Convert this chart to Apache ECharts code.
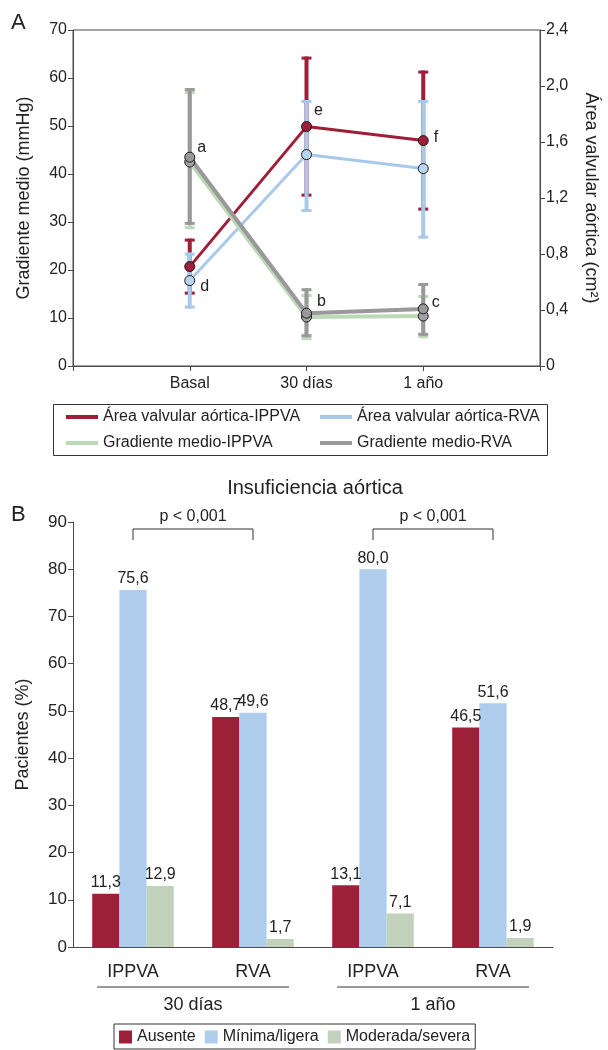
<!DOCTYPE html>
<html><head><meta charset="utf-8">
<script src="https://cdn.jsdelivr.net/npm/echarts@6/dist/echarts.min.js"></script>
<style>html,body{margin:0;padding:0;background:#fff}#c{width:608px;height:1050px}</style>
</head><body><div id="c"></div>
<script>
// ---------- Panel A data ----------
const timepoints = ['Basal', '30 días', '1 año'];
// Gradiente medio (mmHg)
const gradIPPVA     = [42.5, 10.2, 10.4];
const gradIPPVALow  = [28.5, 5.4, 5.8];
const gradIPPVAHigh = [57.3, 15.0, 14.8];
const gradRVA       = [43.5, 11.0, 11.9];
const gradRVALow    = [29.4, 6.0, 6.3];
const gradRVAHigh   = [57.9, 16.2, 17.3];
// Área valvular aórtica (cm2)
const areaIPPVA     = [0.71, 1.71, 1.61];
const areaIPPVALow  = [0.51, 1.21, 1.11];
const areaIPPVAHigh = [0.91, 2.21, 2.11];
const areaRVA       = [0.61, 1.51, 1.41];
const areaRVALow    = [0.41, 1.10, 0.91];
const areaRVAHigh   = [0.81, 1.90, 1.90];
// significance letters
const lettersGradRVA  = ['a', 'b', 'c'];
const lettersAreaRVA  = ['d', '', ''];
const lettersAreaIPPVA = ['', 'e', 'f'];

// ---------- Panel B data ----------
const barCategories = ['IPPVA', 'RVA', 'IPPVA', 'RVA'];
const periods = ['30 días', '1 año'];
const ausente  = [11.3, 48.7, 13.1, 46.5];
const minima   = [75.6, 49.6, 80.0, 51.6];
const moderada = [12.9, 1.7, 7.1, 1.9];
const pFrom = [0, 2];
const pTo   = [1, 3];
const pText = ['p < 0,001', 'p < 0,001'];

// ---------- styling ----------
const FONT = '"Liberation Sans", Arial, Helvetica, sans-serif';
const TXT = '#222';
const AX = '#4a4a4a';
const RED = '#9e1f37', BLUE = '#a9c9ea', GREEN = '#bcd9b6', GRAY = '#999999';
const BAR_RED = '#9c2138', BAR_BLUE = '#aecdec', BAR_GREEN = '#c2d1bb';

const topCats = [''].concat(timepoints, ['']);
const fmtComma = v => v.toFixed(1).replace('.', ',');

function errRender(color, lw, capW, capLw) {
  return function (params, api) {
    const x = api.value(0), lo = api.value(1), hi = api.value(2);
    const pLo = api.coord([x, lo]), pHi = api.coord([x, hi]);
    return { type: 'group', children: [
      { type: 'line', shape: { x1: pLo[0], y1: pLo[1], x2: pHi[0], y2: pHi[1] }, style: { stroke: color, lineWidth: lw } },
      { type: 'line', shape: { x1: pHi[0] - capW / 2, y1: pHi[1] + capLw / 2, x2: pHi[0] + capW / 2, y2: pHi[1] + capLw / 2 }, style: { stroke: color, lineWidth: capLw } },
      { type: 'line', shape: { x1: pLo[0] - capW / 2, y1: pLo[1] - capLw / 2, x2: pLo[0] + capW / 2, y2: pLo[1] - capLw / 2 }, style: { stroke: color, lineWidth: capLw } }
    ]};
  };
}
function errData(lo, hi) { return timepoints.map((t, i) => [i + 1, lo[i], hi[i]]); }
function errSeries(name, color, lo, hi, yIdx, lw) {
  return { type: 'custom', name: name + '-err', xAxisIndex: 0, yAxisIndex: yIdx, z: 2, clip: false,
    renderItem: errRender(color, lw, 10, 3), data: errData(lo, hi), encode: { x: 0, y: [1, 2] },
    silent: true, legendHoverLink: false };
}
const letterOffsets = { a: [-3, -10], b: [0, -12], c: [-2, -6], d: [0, 6], e: [-3, -16], f: [0, -3] };
function lineData(vals, letters) {
  return timepoints.map((t, i) => {
    const d = { value: [i + 1, vals[i]] };
    if (letters && letters[i]) {
      d.label = { show: true, formatter: letters[i], position: 'right', offset: letterOffsets[letters[i]],
        fontSize: 16, fontFamily: FONT, color: TXT };
    }
    return d;
  });
}
function lineSeries(name, color, fill, vals, yIdx, lw, letters) {
  return { type: 'line', name: name, xAxisIndex: 0, yAxisIndex: yIdx, z: 3,
    data: lineData(vals, letters), symbol: 'circle', symbolSize: 10,
    lineStyle: { color: color, width: lw }, itemStyle: { color: fill, borderColor: '#1a1a1a', borderWidth: 1 },
    emphasis: { disabled: true }, animation: false };
}

const chart = echarts.init(document.getElementById('c'), null, { renderer: 'canvas' });
const axisText = { color: TXT, fontSize: 16, fontFamily: FONT };
const nameText = { color: TXT, fontSize: 18, fontFamily: FONT };

const option = {
  animation: false,
  textStyle: { fontFamily: FONT },
  grid: [
    { left: 73, top: 30, width: 467, height: 336, show: true, borderColor: AX, borderWidth: 1, backgroundColor: 'transparent' },
    { left: 73, top: 522, width: 480, height: 425 }
  ],
  xAxis: [
    { gridIndex: 0, type: 'category', data: topCats, boundaryGap: false,
      axisLine: { lineStyle: { color: AX } }, axisTick: { lineStyle: { color: AX }, length: 5 },
      axisLabel: Object.assign({ margin: 10, interval: 0 }, axisText), splitLine: { show: false } },
    { gridIndex: 1, type: 'category', data: barCategories,
      axisLine: { lineStyle: { color: AX } }, axisTick: { lineStyle: { color: AX }, length: 5 },
      axisLabel: Object.assign({ margin: 16, interval: 0 }, axisText, { fontSize: 18 }) },
    { gridIndex: 1, type: 'category', data: periods, position: 'bottom', offset: 41,
      axisLine: { show: false }, axisTick: { show: false },
      axisLabel: Object.assign({ margin: 8, interval: 0 }, axisText, { fontSize: 18 }) }
  ],
  yAxis: [
    { gridIndex: 0, type: 'value', min: 0, max: 70, interval: 10,
      name: 'Gradiente medio (mmHg)', nameLocation: 'middle', nameGap: 40, nameTextStyle: nameText,
      axisLine: { show: true, lineStyle: { color: AX } }, axisTick: { show: true, lineStyle: { color: AX }, length: 5 },
      axisLabel: Object.assign({ margin: 6 }, axisText), splitLine: { show: false } },
    { gridIndex: 0, type: 'value', min: 0, max: 2.4, interval: 0.4, position: 'right',
      name: 'Área valvular aórtica (cm²)', nameLocation: 'middle', nameGap: 42, nameRotate: -90, nameTextStyle: nameText,
      axisLine: { show: true, lineStyle: { color: AX } }, axisTick: { show: true, lineStyle: { color: AX }, length: 5 },
      axisLabel: Object.assign({ margin: 6, formatter: v => v === 0 ? '0' : fmtComma(v) }, axisText),
      splitLine: { show: false } },
    { gridIndex: 1, type: 'value', min: 0, max: 90, interval: 10,
      name: 'Pacientes (%)', nameLocation: 'middle', nameGap: 41, nameTextStyle: nameText,
      axisLine: { show: true, lineStyle: { color: AX } }, axisTick: { show: true, lineStyle: { color: AX }, length: 5 },
      axisLabel: Object.assign({ margin: 6 }, axisText, { fontSize: 17 }), splitLine: { show: false } }
  ],
  legend: [
    { orient: 'vertical', left: 66, top: 408, padding: 0, itemGap: 8, itemWidth: 32, itemHeight: 4, icon: 'rect',
      textStyle: { color: TXT, fontSize: 16, fontFamily: FONT, lineHeight: 18 },
      itemStyle: { borderWidth: 0 }, selectedMode: false,
      data: [{ name: 'Área valvular aórtica-IPPVA', itemStyle: { color: RED } },
             { name: 'Gradiente medio-IPPVA', itemStyle: { color: GREEN } }] },
    { orient: 'vertical', left: 320, top: 408, padding: 0, itemGap: 8, itemWidth: 32, itemHeight: 4, icon: 'rect',
      textStyle: { color: TXT, fontSize: 16, fontFamily: FONT, lineHeight: 18 },
      itemStyle: { borderWidth: 0 }, selectedMode: false,
      data: [{ name: 'Área valvular aórtica-RVA', itemStyle: { color: BLUE } },
             { name: 'Gradiente medio-RVA', itemStyle: { color: GRAY } }] },
    { orient: 'horizontal', left: 114, top: 1024, padding: [5, 5, 4, 5], itemGap: 9, itemWidth: 13, itemHeight: 13, icon: 'rect',
      borderColor: '#333', borderWidth: 1,
      textStyle: { color: TXT, fontSize: 16, fontFamily: FONT, lineHeight: 16 }, selectedMode: false,
      data: ['Ausente', 'Mínima/ligera', 'Moderada/severa'] }
  ],
  series: [
    errSeries('Gradiente medio-IPPVA', GREEN, gradIPPVALow, gradIPPVAHigh, 0, 4),
    errSeries('Gradiente medio-RVA', GRAY, gradRVALow, gradRVAHigh, 0, 4),
    errSeries('Área valvular aórtica-IPPVA', RED, areaIPPVALow, areaIPPVAHigh, 1, 4),
    errSeries('Área valvular aórtica-RVA', BLUE, areaRVALow, areaRVAHigh, 1, 4),
    lineSeries('Área valvular aórtica-IPPVA', RED, RED, areaIPPVA, 1, 3, lettersAreaIPPVA),
    lineSeries('Área valvular aórtica-RVA', BLUE, '#b9d5f0', areaRVA, 1, 3, lettersAreaRVA),
    lineSeries('Gradiente medio-IPPVA', GREEN, '#a3a3a3', gradIPPVA, 0, 4, null),
    lineSeries('Gradiente medio-RVA', GRAY, GRAY, gradRVA, 0, 4, lettersGradRVA),
    // Panel B bars
    { type: 'bar', name: 'Ausente', xAxisIndex: 1, yAxisIndex: 2, data: ausente, barGap: '0%', barCategoryGap: '32%',
      itemStyle: { color: BAR_RED },
      label: { show: true, position: 'top', distance: 3, formatter: p => fmtComma(p.value), color: TXT, fontSize: 16, fontFamily: FONT } },
    { type: 'bar', name: 'Mínima/ligera', xAxisIndex: 1, yAxisIndex: 2, data: minima, barGap: '0%', barCategoryGap: '32%',
      itemStyle: { color: BAR_BLUE },
      label: { show: true, position: 'top', distance: 3, formatter: p => fmtComma(p.value), color: TXT, fontSize: 16, fontFamily: FONT } },
    { type: 'bar', name: 'Moderada/severa', xAxisIndex: 1, yAxisIndex: 2, data: moderada, barGap: '0%', barCategoryGap: '32%',
      itemStyle: { color: BAR_GREEN },
      label: { show: true, position: 'top', distance: 3, formatter: p => fmtComma(p.value), color: TXT, fontSize: 16, fontFamily: FONT } },
    // significance brackets
    { type: 'custom', xAxisIndex: 1, yAxisIndex: 2, clip: false, silent: true, z: 5,
      data: pFrom.map((f, i) => [f, pTo[i]]),
      renderItem: function (params, api) {
        const a = api.coord([api.value(0), 90]);
        const b = api.coord([api.value(1), 90]);
        const y = a[1] + 7, yb = a[1] + 18;
        return { type: 'group', children: [
          { type: 'polyline', shape: { points: [[a[0], yb], [a[0], y], [b[0], y], [b[0], yb]] },
            style: { stroke: '#333', lineWidth: 1, fill: null } },
          { type: 'text', style: { text: pText[params.dataIndex], x: (a[0] + b[0]) / 2, y: a[1] - 5,
            align: 'center', verticalAlign: 'middle', fontSize: 16, fontFamily: FONT, fill: TXT } }
        ]};
      } },
    // period underlines
    { type: 'custom', xAxisIndex: 2, yAxisIndex: 2, clip: false, silent: true,
      data: periods.map((p, i) => [i, 0]),
      renderItem: function (params, api) {
        const c = api.coord([api.value(0), 0]);
        const bw = api.size([1, 0])[0];
        const y = c[1] + 40;
        return { type: 'line', shape: { x1: c[0] - 0.4 * bw, y1: y, x2: c[0] + 0.4 * bw, y2: y },
          style: { stroke: '#333', lineWidth: 1 } };
      } }
  ],
  graphic: [
    { type: 'rect', shape: { x: 53.5, y: 404.5, width: 494, height: 51 }, style: { fill: null, stroke: '#333', lineWidth: 1 }, silent: true },
    { type: 'text', x: 11, y: 12, style: { text: 'A', fontSize: 22, fontFamily: FONT, fill: TXT } },
    { type: 'text', x: 11, y: 504, style: { text: 'B', fontSize: 22, fontFamily: FONT, fill: TXT } },
    { type: 'text', x: 315, y: 488, style: { text: 'Insuficiencia aórtica', fontSize: 20, fontFamily: FONT, fill: TXT, align: 'center', verticalAlign: 'middle' } }
  ]
};
chart.setOption(option);
</script>
</body></html>
